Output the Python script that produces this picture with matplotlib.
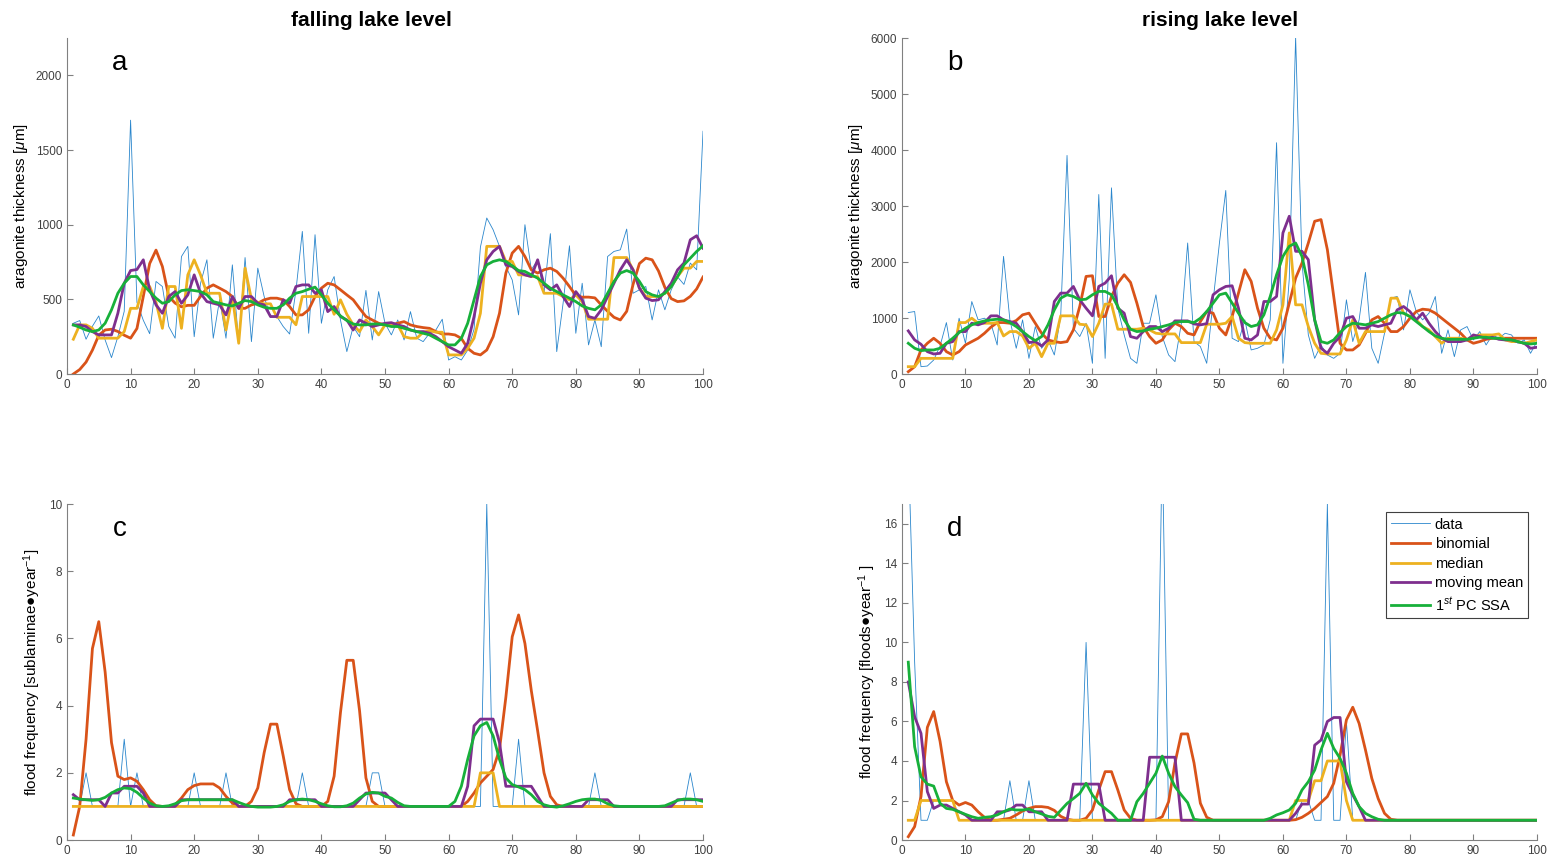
import matplotlib
matplotlib.use('Agg')
import matplotlib.pyplot as plt
import numpy as np

plt.rcParams['font.family'] = ['Liberation Sans', 'DejaVu Sans']
plt.rcParams['mathtext.fontset'] = 'custom'
plt.rcParams['mathtext.rm'] = 'Liberation Sans'
plt.rcParams['mathtext.it'] = 'Liberation Sans:italic'

years = np.arange(1, 101)
labels = ['data', 'binomial', 'median', 'moving mean', '1$^{st}$ PC SSA']
colors = ['#2A86CC', '#D95319', '#EDB120', '#7E2F8E', '#17B03A']

# ---- panel a : falling lake level, aragonite thickness
a_data = [340, 358, 233, 320, 389, 228, 110, 250, 420, 1700,
          480, 360, 270, 620, 586, 318, 240, 787, 855, 250,
          608, 765, 240, 500, 240, 731, 206, 780, 217, 709,
          519, 380, 385, 318, 268, 560, 955, 273, 933, 340,
          564, 653, 362, 150, 318, 250, 560, 228, 552, 340,
          262, 362, 228, 418, 240, 217, 273, 295, 367, 94,
          116, 94, 160, 300, 850, 1045, 966, 855, 720, 630,
          396, 1000, 698, 765, 541, 940, 150, 474, 859, 273,
          608, 195, 362, 183, 787, 821, 832, 971, 541, 564,
          586, 362, 564, 430, 564, 650, 600, 743, 698, 1626]
a_binom = [0, 30, 80, 160, 260, 295, 300, 285, 260, 240,
           305, 520, 740, 830, 720, 520, 475, 450, 460, 460,
           520, 575, 597, 575, 552, 519, 440, 440, 463, 474,
           497, 508, 508, 497, 452, 396, 396, 430, 519, 575,
           608, 597, 564, 530, 497, 440, 385, 362, 340, 329,
           329, 340, 351, 329, 318, 311, 306, 284, 268, 268,
           262, 239, 172, 139, 128, 161, 250, 407, 676, 810,
           855, 787, 698, 676, 698, 709, 687, 642, 586, 526,
           515, 515, 510, 463, 420, 380, 362, 420, 600, 740,
           776, 765, 690, 580, 505, 485, 490, 520, 570, 650]
a_median = [233, 329, 329, 306, 240, 240, 240, 240, 284, 440,
            440, 586, 586, 480, 306, 586, 586, 306, 664, 765,
            664, 541, 541, 541, 295, 520, 206, 709, 500, 480,
            470, 470, 380, 380, 380, 330, 519, 519, 519, 519,
            519, 400, 497, 400, 330, 284, 362, 318, 262, 329,
            330, 330, 250, 240, 240, 280, 290, 280, 280, 128,
            128, 128, 172, 240, 407, 855, 855, 855, 754, 754,
            664, 664, 653, 653, 541, 541, 541, 519, 497, 530,
            485, 367, 367, 367, 367, 780, 780, 780, 698, 575,
            519, 519, 519, 541, 586, 653, 709, 709, 754, 754]
a_mmean = [329, 329, 318, 284, 262, 262, 262, 407, 608, 693,
           700, 765, 564, 463, 407, 519, 552, 474, 530, 664,
           541, 485, 474, 463, 396, 519, 440, 519, 519, 474,
           463, 385, 385, 497, 474, 586, 597, 597, 541, 564,
           418, 452, 385, 362, 295, 362, 340, 318, 329, 340,
           344, 329, 318, 295, 284, 284, 273, 250, 217, 183,
           161, 139, 206, 385, 608, 765, 821, 855, 731, 720,
           687, 664, 653, 765, 597, 564, 597, 519, 452, 552,
           497, 385, 373, 430, 519, 608, 698, 765, 698, 575,
           508, 492, 497, 552, 608, 698, 743, 899, 926, 843]
a_ssa = [329, 313, 295, 284, 295, 340, 430, 541, 608, 653,
         653, 597, 552, 508, 474, 485, 530, 559, 564, 559,
         552, 530, 485, 474, 463, 456, 474, 492, 485, 463,
         447, 440, 440, 463, 508, 541, 552, 568, 582, 530,
         474, 430, 389, 358, 335, 329, 329, 335, 335, 329,
         318, 318, 306, 295, 284, 273, 262, 239, 217, 195,
         195, 239, 340, 497, 653, 731, 754, 765, 754, 725,
         693, 687, 664, 642, 608, 575, 552, 530, 508, 485,
         456, 440, 430, 463, 541, 620, 676, 693, 676, 620,
         552, 530, 519, 541, 586, 653, 731, 776, 821, 859]

# ---- panel b : rising lake level, aragonite thickness
b_data = [1098, 1116, 131, 143, 250, 500, 919, 250, 997, 549,
          1295, 967, 997, 907, 519, 2101, 967, 460, 967, 280,
          848, 460, 609, 340, 1027, 3904, 818, 669, 907, 191,
          3206, 280, 3325, 1176, 700, 280, 191, 907, 907, 1415,
          669, 340, 221, 900, 2340, 579, 490, 191, 1300, 2340,
          3278, 639, 579, 967, 430, 460, 519, 967, 4131, 191,
          1700, 6020, 2000, 700, 280, 519, 340, 280, 370, 1325,
          579, 967, 1815, 460, 191, 728, 1355, 1385, 788, 1504,
          1116, 967, 1087, 1385, 370, 788, 310, 788, 848, 609,
          758, 519, 698, 639, 728, 698, 549, 609, 370, 579]
b_binom = [42, 131, 430, 549, 639, 549, 400, 340, 400, 519,
           579, 639, 728, 836, 919, 919, 907, 955, 1057, 1087,
           907, 728, 609, 579, 561, 579, 788, 1206, 1743, 1755,
           1027, 1027, 1385, 1624, 1773, 1636, 1266, 848, 669, 549,
           609, 788, 907, 848, 728, 698, 937, 1116, 1087, 818,
           698, 1027, 1445, 1863, 1654, 1176, 818, 639, 609, 818,
           1266, 1713, 1982, 2340, 2728, 2758, 2221, 1385, 549, 430,
           430, 519, 728, 967, 1027, 907, 758, 758, 848, 997,
           1116, 1158, 1146, 1087, 997, 907, 818, 728, 609, 549,
           579, 620, 639, 639, 639, 639, 639, 639, 639, 639]
b_median = [131, 131, 280, 280, 280, 280, 280, 280, 919, 919,
            997, 907, 907, 907, 919, 680, 758, 758, 680, 460,
            549, 310, 549, 549, 1039, 1039, 1039, 889, 878, 669,
            907, 1248, 1248, 800, 800, 800, 800, 818, 788, 728,
            716, 716, 716, 561, 561, 561, 561, 889, 889, 889,
            907, 1027, 639, 561, 549, 549, 549, 549, 788, 1236,
            2520, 1236, 1236, 848, 549, 370, 358, 358, 358, 609,
            967, 549, 758, 758, 758, 758, 1355, 1355, 1087, 1027,
            967, 848, 788, 669, 549, 639, 639, 639, 609, 657,
            698, 698, 698, 716, 609, 579, 579, 549, 579, 609]
b_mmean = [770, 609, 531, 400, 358, 370, 549, 579, 758, 758,
           907, 878, 919, 1039, 1039, 967, 937, 907, 758, 561,
           579, 501, 609, 1295, 1445, 1445, 1564, 1325, 1176, 1039,
           1564, 1624, 1755, 1176, 1087, 669, 639, 758, 848, 848,
           758, 818, 949, 949, 949, 895, 878, 900, 1415, 1504,
           1564, 1576, 1176, 639, 609, 698, 1295, 1295, 1385, 2520,
           2818, 2191, 2191, 2042, 967, 460, 370, 549, 669, 997,
           1027, 818, 818, 878, 848, 878, 907, 1146, 1206, 1116,
           967, 1087, 907, 758, 639, 579, 579, 579, 609, 698,
           669, 639, 657, 620, 609, 609, 579, 549, 460, 478]
b_ssa = [549, 460, 418, 430, 430, 460, 549, 639, 740, 818,
         878, 919, 949, 967, 979, 967, 919, 848, 758, 669,
         597, 669, 878, 1146, 1355, 1415, 1385, 1325, 1337, 1415,
         1475, 1475, 1415, 1206, 967, 800, 758, 770, 800, 818,
         848, 878, 919, 937, 937, 919, 997, 1116, 1266, 1415,
         1445, 1266, 1087, 919, 848, 878, 1057, 1385, 1773, 2101,
         2281, 2340, 2101, 1594, 967, 579, 549, 609, 740, 848,
         907, 895, 878, 907, 937, 997, 1057, 1098, 1087, 1027,
         937, 848, 758, 680, 639, 620, 620, 620, 620, 639,
         657, 657, 639, 639, 620, 609, 579, 549, 537, 549]

# ---- panel c : falling lake level, flood frequency (sublaminae)
c_data = [1, 1, 2, 1, 1, 1, 1, 1, 3, 1,
          2, 1, 1, 1, 1, 1, 1, 1, 1, 2,
          1, 1, 1, 1, 2, 1, 1, 1, 1, 1,
          1, 1, 1, 1, 1, 1, 2, 1, 1, 1,
          1, 1, 1, 1, 1, 1, 1, 2, 2, 1,
          1, 1, 1, 1, 1, 1, 1, 1, 1, 1,
          1, 1, 1, 1, 1, 10, 1, 1, 1, 1,
          3, 1, 1, 1, 1, 1, 1, 1, 1, 1,
          1, 1, 2, 1, 1, 1, 1, 1, 1, 1,
          1, 1, 1, 1, 1, 1, 1, 2, 1, 1]
c_binom = [0.15, 1.0, 3.0, 5.7, 6.5, 5.0, 2.9, 1.9, 1.8, 1.85,
           1.75, 1.5, 1.2, 1.02, 1.0, 1.0, 1.05, 1.25, 1.5, 1.62,
           1.67, 1.67, 1.67, 1.55, 1.3, 1.1, 1.0, 1.0, 1.15, 1.55,
           2.6, 3.45, 3.45, 2.5, 1.5, 1.08, 1.0, 1.0, 1.0, 1.0,
           1.15, 1.9, 3.8, 5.35, 5.35, 3.85, 1.85, 1.15, 1.0, 1.0,
           1, 1, 1, 1, 1, 1, 1, 1, 1, 1,
           1.0, 1.0, 1.15, 1.4, 1.7, 1.9, 2.1, 2.7, 4.25, 6.05,
           6.7, 5.85, 4.45, 3.25, 2.0, 1.3, 1.05, 1.0, 1, 1,
           1, 1, 1, 1, 1, 1, 1, 1, 1, 1,
           1, 1, 1, 1, 1, 1, 1, 1, 1, 1]
c_median = [1] * 64 + [2, 2, 2] + [1] * 33
c_mmean = [1.35, 1.2, 1.2, 1.2, 1.2, 1.0, 1.4, 1.4, 1.6, 1.6,
           1.6, 1.4, 1.0, 1.0, 1.0, 1.0, 1.0, 1.2, 1.2, 1.2,
           1.2, 1.2, 1.2, 1.2, 1.2, 1.2, 1.0, 1.0, 1.0, 1.0,
           1.0, 1.0, 1.0, 1.0, 1.2, 1.2, 1.2, 1.2, 1.2, 1.0,
           1.0, 1.0, 1.0, 1.0, 1.0, 1.2, 1.4, 1.4, 1.4, 1.4,
           1.2, 1.0, 1, 1, 1, 1, 1, 1, 1, 1,
           1, 1.0, 1.6, 3.4, 3.6, 3.6, 3.6, 2.9, 1.6, 1.6,
           1.6, 1.6, 1.6, 1.3, 1.0, 1, 1, 1, 1, 1,
           1, 1.2, 1.2, 1.2, 1.2, 1.0, 1, 1, 1, 1,
           1, 1, 1, 1, 1, 1.2, 1.2, 1.2, 1.2, 1.2]
c_ssa = [1.25, 1.22, 1.2, 1.18, 1.2, 1.27, 1.4, 1.5, 1.55, 1.53,
         1.42, 1.25, 1.1, 1.02, 1.0, 1.02, 1.08, 1.17, 1.2, 1.2,
         1.2, 1.2, 1.2, 1.2, 1.2, 1.2, 1.12, 1.05, 1.0, 0.98,
         0.98, 0.98, 1.0, 1.05, 1.15, 1.2, 1.22, 1.2, 1.15, 1.08,
         1.02, 0.99, 0.99, 1.02, 1.1, 1.25, 1.37, 1.42, 1.4, 1.3,
         1.25, 1.12, 1.02, 1.0, 1.0, 1.0, 1.0, 1.0, 1.0, 1.0,
         1.15, 1.6, 2.4, 3.1, 3.4, 3.5, 3.1, 2.4, 1.85, 1.65,
         1.58, 1.5, 1.35, 1.15, 1.05, 1.0, 0.98, 1.02, 1.08, 1.15,
         1.2, 1.22, 1.22, 1.18, 1.08, 1.02, 1.0, 1.0, 1.0, 1.0,
         1.0, 1.0, 1.0, 1.02, 1.1, 1.18, 1.22, 1.22, 1.2, 1.15]

# ---- panel d : rising lake level, flood frequency (floods)
d_data = [20, 9, 1, 1, 2, 2, 2, 2, 1, 1,
          1, 1, 1, 1, 1, 1, 3, 1, 1, 3,
          1, 1, 1, 1, 1, 1, 1, 1, 10, 1,
          1, 1, 1, 1, 1, 1, 1, 1, 1, 1,
          20, 1, 1, 1, 1, 1, 1, 1, 1, 1,
          1, 1, 1, 1, 1, 1, 1, 1, 1, 1,
          1, 1, 2, 2, 1, 1, 17, 1, 1, 6,
          1, 1, 1, 1, 1, 1, 1, 1, 1, 1,
          1, 1, 1, 1, 1, 1, 1, 1, 1, 1,
          1, 1, 1, 1, 1, 1, 1, 1, 1, 1]
d_binom = [0.17, 0.68, 2.2, 5.7, 6.5, 5.0, 2.95, 2.0, 1.77, 1.9,
           1.77, 1.43, 1.15, 1.0, 1.0, 1.05, 1.1, 1.27, 1.47, 1.6,
           1.69, 1.69, 1.65, 1.5, 1.2, 1.05, 1.0, 1.0, 1.1, 1.52,
           2.53, 3.46, 3.46, 2.53, 1.52, 1.1, 1.0, 1.0, 1.0, 1.02,
           1.18, 1.94, 3.9, 5.37, 5.37, 3.9, 1.86, 1.15, 1.0, 1.0,
           1, 1, 1, 1, 1, 1, 1, 1, 1, 1,
           1.0, 1.03, 1.15, 1.35, 1.6, 1.9, 2.2, 2.87, 4.3, 6.08,
           6.72, 5.9, 4.56, 3.12, 2.1, 1.35, 1.05, 1.0, 1, 1,
           1, 1, 1, 1, 1, 1, 1, 1, 1, 1,
           1, 1, 1, 1, 1, 1, 1, 1, 1, 1]
d_median = [1, 1, 2, 2, 2, 2, 2, 2] + [1] * 53 + [2, 2, 2, 3, 3, 4, 4, 4, 2] + [1] * 30
d_mmean = [8.0, 6.24, 5.4, 2.45, 1.6, 1.77, 1.77, 1.6, 1.43, 1.27,
           1.0, 1.0, 1.0, 1.0, 1.43, 1.43, 1.52, 1.77, 1.77, 1.43,
           1.43, 1.43, 1.0, 1.0, 1.0, 1.0, 2.83, 2.83, 2.83, 2.83,
           2.83, 1.0, 1.0, 1.0, 1.0, 1.0, 1.0, 1.0, 4.19, 4.19,
           4.19, 4.19, 4.19, 1.0, 1, 1, 1, 1, 1, 1,
           1, 1, 1, 1, 1, 1, 1, 1, 1, 1,
           1.0, 1.35, 1.82, 1.82, 4.8, 5.06, 6.0, 6.2, 6.2, 2.95,
           2.28, 1.69, 1.0, 1, 1, 1, 1, 1, 1, 1,
           1, 1, 1, 1, 1, 1, 1, 1, 1, 1,
           1, 1, 1, 1, 1, 1, 1, 1, 1, 1]
d_ssa = [9.0, 4.72, 3.2, 2.83, 2.73, 1.86, 1.6, 1.55, 1.43, 1.3,
         1.18, 1.1, 1.15, 1.18, 1.27, 1.43, 1.57, 1.52, 1.52, 1.57,
         1.43, 1.32, 1.2, 1.15, 1.5, 1.85, 2.1, 2.36, 2.87, 2.28,
         1.86, 1.6, 1.35, 1.0, 1.0, 1.0, 1.94, 2.36, 2.87, 3.38,
         4.25, 3.38, 2.7, 2.28, 1.89, 1.05, 1, 1, 1, 1,
         1, 1, 1, 1, 1, 1, 1, 1.1, 1.27, 1.38,
         1.52, 1.86, 2.53, 2.95, 3.54, 4.56, 5.4, 4.64, 4.13, 3.38,
         2.36, 1.69, 1.35, 1.18, 1.05, 1, 1, 1, 1, 1,
         1, 1, 1, 1, 1, 1, 1, 1, 1, 1,
         1, 1, 1, 1, 1, 1, 1, 1, 1, 1]


def draw_panel(ax, series, letter, ylim, yticks, ylabel):
    for i, s in enumerate(series):
        lw = 0.6 if i == 0 else 2.0
        ax.plot(years, s, color=colors[i], lw=lw, label=labels[i])
    ax.set_xlim(0, 100)
    ax.set_ylim(*ylim)
    ax.set_xticks(range(0, 101, 10))
    ax.set_yticks(yticks)
    for side in ['top', 'right']:
        ax.spines[side].set_visible(False)
    for side in ['left', 'bottom']:
        ax.spines[side].set_color('#808080')
        ax.spines[side].set_linewidth(0.8)
    ax.tick_params(direction='in', length=4, width=0.8, color='#808080',
                   labelsize=8.5, labelcolor='#404040')
    ax.set_ylabel(ylabel, fontsize=11, labelpad=4)
    ax.text(0.083, 0.925, letter, transform=ax.transAxes, fontsize=20,
            ha='center', va='center')


fig = plt.figure(figsize=(15.54, 8.67), dpi=100)
ax_a = fig.add_axes([0.0431, 0.5686, 0.4093, 0.3875])
ax_b = fig.add_axes([0.5804, 0.5686, 0.4086, 0.3875])
ax_c = fig.add_axes([0.0431, 0.0311, 0.4093, 0.3875])
ax_d = fig.add_axes([0.5804, 0.0311, 0.4086, 0.3875])

draw_panel(ax_a, [a_data, a_binom, a_median, a_mmean, a_ssa], 'a',
           (0, 2250), range(0, 2001, 500), r'aragonite thickness [$\mu$m]')
draw_panel(ax_b, [b_data, b_binom, b_median, b_mmean, b_ssa], 'b',
           (0, 6000), range(0, 6001, 1000), r'aragonite thickness [$\mu$m]')
draw_panel(ax_c, [c_data, c_binom, c_median, c_mmean, c_ssa], 'c',
           (0, 10), range(0, 11, 2), 'flood frequency [sublaminae\u25CFyear$^{-1}$]')
draw_panel(ax_d, [d_data, d_binom, d_median, d_mmean, d_ssa], 'd',
           (0, 17), range(0, 17, 2), 'flood frequency [floods\u25CFyear$^{-1}$ ]')

leg = ax_d.legend(loc='upper right', fontsize=10.5, handlelength=2.7,
                  fancybox=False, framealpha=1, borderpad=0.35,
                  labelspacing=0.38, handletextpad=0.3, borderaxespad=0,
                  bbox_to_anchor=(0.986, 0.975))
leg.get_frame().set_edgecolor('#404040')
leg.get_frame().set_linewidth(0.8)

fig.text(371 / 1554, 1 - 20 / 867, 'falling lake level', fontsize=15,
         fontweight='bold', ha='center', va='center')
fig.text(1220 / 1554, 1 - 20 / 867, 'rising lake level', fontsize=15,
         fontweight='bold', ha='center', va='center')

fig.savefig('out.png', dpi=100)
